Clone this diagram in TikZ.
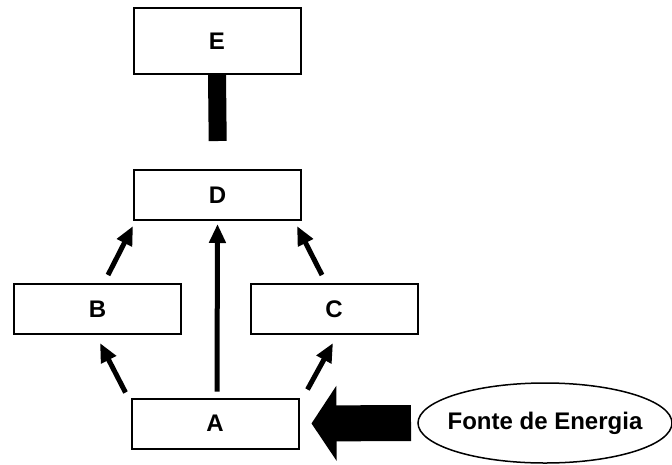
\documentclass[tikz,border=0pt]{standalone}
\usepackage{fontspec}
\setmainfont{Liberation Sans}
\usetikzlibrary{arrows.meta,calc,shapes.geometric}
\begin{document}
\begin{tikzpicture}[x=1pt,y=-1pt,
  box/.style={draw,line width=2pt,minimum width=167pt,minimum height=50pt,inner sep=0pt,
    font=\fontsize{24}{28}\selectfont\bfseries},
  arr/.style={line width=5pt,-{Triangle[width=16pt,length=19pt]}},
  big/.style={line width=36pt,-{Triangle[width=74pt,length=25pt]}}]
\useasboundingbox (0,0) rectangle (672,464);
\node[box,minimum height=66pt] (E) at (217,41) {E};
\node[box] (D) at (217.5,195) {D};
\node[box] (B) at (97.5,309) {B};
\node[box] (C) at (334,309) {C};
\node[box] (A) at (215,423.5) {A};
\node[inner sep=0pt,font=\fontsize{24}{28}\selectfont\bfseries] (F) at (545,423) {Fonte de Energia};
\draw[line width=1.5pt] (F.center) ellipse [x radius=127, y radius=40];
\coordinate (Fw) at ($(F.center)+(-127,0)$);
\draw[line width=18pt,shorten >=28pt] (E.south) -- ($(D.north)+(0.5,0)$);
\draw[arr] ($(A.north west)+(-5,-5)$) -- ($(B.south)+(2.5,8)$);
\draw[arr] ($(A.north east)+(8,-8)$) -- ($(C.south)+(-1,8)$);
\draw[arr] ($(A.north)+(2,-6)$) -- ($(D.south)+(0,3)$);
\draw[arr] ($(B.north)+(10.5,-8)$) -- ($(D.south west)+(0,5)$);
\draw[arr] ($(C.north)+(-12,-8)$) -- ($(D.south east)+(-5,5)$);
\draw[big,shorten <=7pt,shorten >=12pt] (Fw) -- (A.east);
\end{tikzpicture}
\end{document}
